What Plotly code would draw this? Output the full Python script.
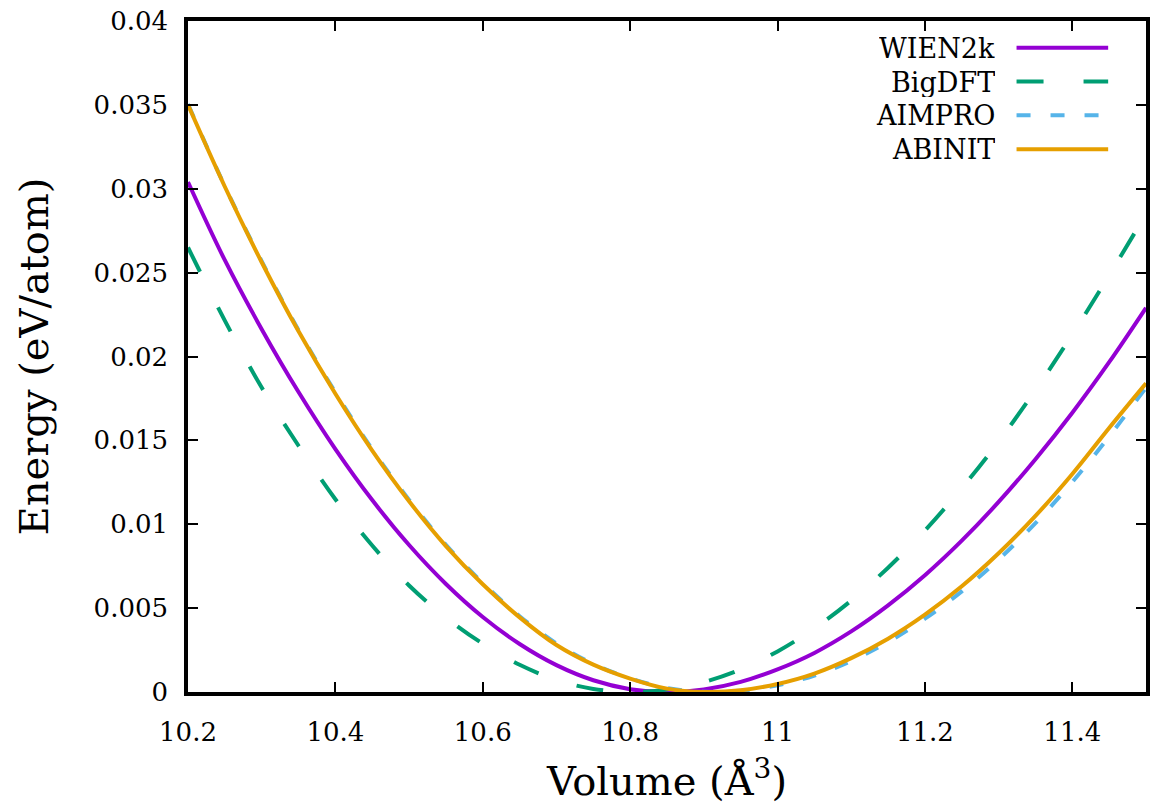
import plotly.graph_objects as go

volume = [10.20, 10.25, 10.30, 10.35, 10.40, 10.45, 10.50, 10.55, 10.60, 10.65,
          10.70, 10.75, 10.80, 10.85, 10.90, 10.95, 11.00, 11.05, 11.10, 11.15,
          11.20, 11.25, 11.30, 11.35, 11.40, 11.45, 11.50]

wien2k = [0.0304, 0.02574, 0.02163, 0.01788, 0.01448, 0.01144, 0.00876, 0.00644, 0.00447, 0.00286,
          0.0016, 0.0007, 0.00017, 0.0, 0.00015, 0.0006, 0.00135, 0.00233, 0.00361, 0.00516,
          0.00696, 0.00902, 0.01133, 0.01388, 0.01665, 0.01966, 0.0229]

bigdft = [0.0265, 0.02214, 0.01815, 0.01468, 0.01149, 0.00873, 0.00635, 0.00444, 0.00288, 0.00162,
          0.00072, 0.00018, 0.0, 0.00015, 0.00059, 0.00134, 0.00242, 0.00379, 0.00545, 0.00741,
          0.00963, 0.01215, 0.01493, 0.018, 0.02131, 0.02484, 0.0285]

aimpro = [0.03505, 0.03015, 0.02568, 0.02157, 0.01786, 0.01447, 0.01145, 0.00878, 0.0065, 0.00452,
          0.00289, 0.00167, 0.00082, 0.00024, 0.00001, 0.00008, 0.0004, 0.00098, 0.00185, 0.00298,
          0.00437, 0.006, 0.0079, 0.01007, 0.01252, 0.01523, 0.01815]

abinit = [0.0350, 0.03012, 0.02562, 0.0215, 0.01778, 0.01439, 0.01137, 0.0087, 0.00642, 0.00445,
          0.0028, 0.00163, 0.0008, 0.0002, 0.0, 0.0001, 0.00048, 0.0011, 0.00202, 0.00318,
          0.00461, 0.0063, 0.00827, 0.0105, 0.0130, 0.01574, 0.0184]

series_names = ["WIEN2k", "BigDFT", "AIMPRO", "ABINIT"]
series_values = [wien2k, bigdft, aimpro, abinit]
series_colors = ["#9400D3", "#009E73", "#56B4E9", "#E69F00"]
series_dash = ["solid", "27px,40px", "14px,20px", "solid"]

x_tickvals = [10.2, 10.4, 10.6, 10.8, 11.0, 11.2, 11.4]
x_ticktext = ["10.2", "10.4", "10.6", "10.8", "11", "11.2", "11.4"]
y_tickvals = [0, 0.005, 0.01, 0.015, 0.02, 0.025, 0.03, 0.035, 0.04]
y_ticktext = ["0", "0.005", "0.01", "0.015", "0.02", "0.025", "0.03", "0.035", "0.04"]

FONT = "DejaVu Serif"

fig = go.Figure()
for name, vals, col, dash in zip(series_names, series_values, series_colors, series_dash):
    fig.add_trace(go.Scatter(x=volume, y=vals, mode="lines", name=name,
                             line=dict(color=col, width=4, dash=dash, shape="spline", smoothing=1.0),
                             showlegend=False))

# gnuplot-style key: label right-aligned, line sample to its right
legend_top = 1 - (46.7 - 20) / 672.0
row_step = 33.9 / 672.0
for i, (name, col, dash) in enumerate(zip(series_names, series_colors, series_dash)):
    yy = legend_top - i * row_step
    fig.add_annotation(x=(999 - 188) / 962.0, y=yy, xref="paper", yref="paper",
                       text=name, showarrow=False, xanchor="right", yanchor="middle",
                       borderpad=0, height=30,
                       font=dict(family=FONT, size=27, color="black"))
    fig.add_shape(type="line", xref="paper", yref="paper",
                  x0=(1020 - 188) / 962.0, x1=(1112 - 188) / 962.0, y0=yy, y1=yy,
                  line=dict(color=col, width=4, dash=dash))

axis_common = dict(showline=True, linecolor="black", linewidth=3.5, mirror="ticks",
                   ticks="inside", ticklen=10, tickwidth=2, tickcolor="black",
                   showgrid=False, zeroline=False,
                   tickfont=dict(family=FONT, size=26, color="black"))

fig.update_xaxes(range=[10.2, 11.5], tickvals=x_tickvals, ticktext=x_ticktext,
                 ticklabelstandoff=14,
                 title=dict(text="Volume (Å<sup>3</sup>)",
                            font=dict(family=FONT, size=40, color="black"), standoff=22),
                 **axis_common)
fig.update_yaxes(range=[0, 0.04], tickvals=y_tickvals, ticktext=y_ticktext,
                 ticklabelstandoff=11,
                 title=dict(text="Energy (eV/atom)",
                            font=dict(family=FONT, size=40, color="black"), standoff=34),
                 **axis_common)

fig.update_layout(width=1156, height=805, margin=dict(l=188, r=6, t=20, b=113),
                  plot_bgcolor="white", paper_bgcolor="white")

fig.write_html("out.html")
